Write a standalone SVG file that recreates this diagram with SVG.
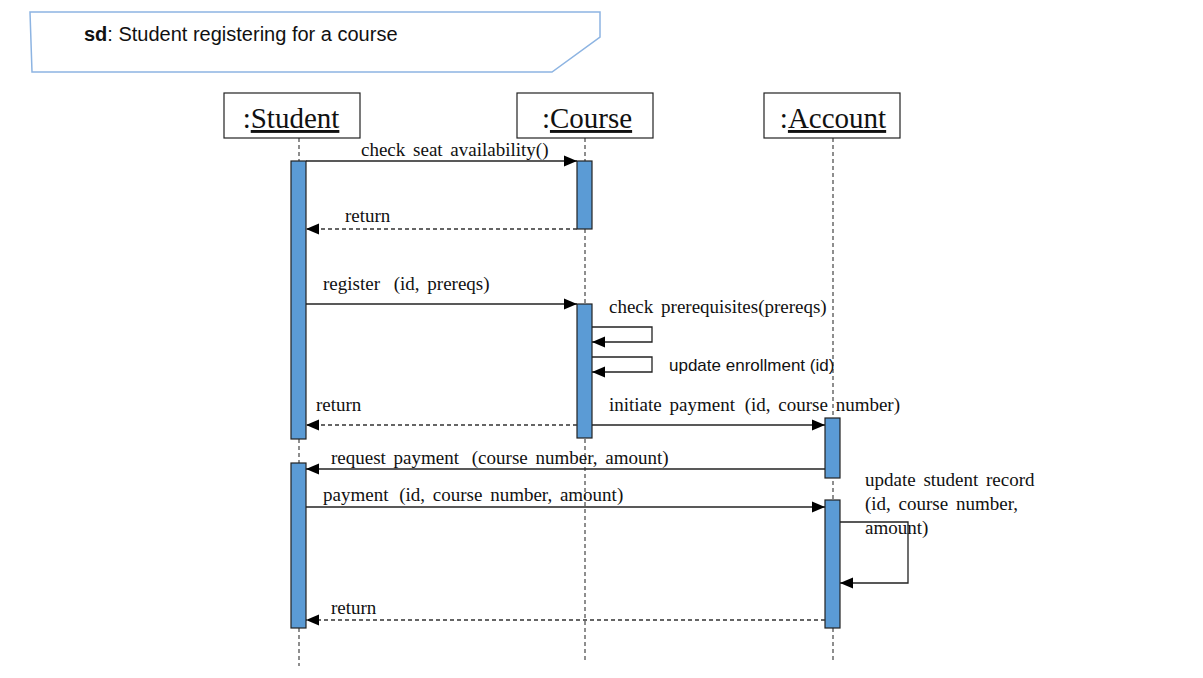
<svg xmlns="http://www.w3.org/2000/svg" width="1203" height="678" viewBox="0 0 1203 678">
<defs>
<style>
.t{font-family:"Liberation Serif","Times New Roman",serif;font-size:19px;fill:#111}
.h{font-family:"Liberation Serif","Times New Roman",serif;font-size:29px;fill:#111}
.a{font-family:"Liberation Sans",Arial,sans-serif;font-size:17px;fill:#111}
.box{fill:#fff;stroke:#222;stroke-width:1.2}
.life{stroke:#444;stroke-width:1.2;stroke-dasharray:4 3;fill:none}
.act{fill:#5b9bd5;stroke:#222;stroke-width:1.2}
.msg{stroke:#222;stroke-width:1.3;fill:none;marker-end:url(#ah)}
.ret{stroke:#333;stroke-width:1.3;fill:none;stroke-dasharray:4 3;marker-end:url(#ah)}
</style>
<marker id="ah" markerUnits="userSpaceOnUse" markerWidth="14" markerHeight="12" refX="13" refY="6" orient="auto">
<path d="M0,0.5 L13,6 L0,11.5 z" fill="#000"/>
</marker>
</defs>
<rect width="1203" height="678" fill="#fff"/>
<g id="frame">
<path d="M30,12 L600,12 L600,37 L552,72 L32,72 Z" fill="#fff" stroke="#8db4e2" stroke-width="1.5"/>
<text x="84" y="41" style="font-family:'Liberation Sans',Arial,sans-serif;font-size:20px;fill:#111"><tspan font-weight="bold">sd</tspan>: Student registering for a course</text>
</g>
<g id="lifelines">
<line class="life" x1="299" y1="138" x2="299" y2="666"/>
<line class="life" x1="585" y1="138" x2="585" y2="660"/>
<line class="life" x1="833" y1="138" x2="833" y2="660"/>
</g>
<g id="student">
<rect class="box" x="224" y="93" width="136" height="45"/>
<text class="h" x="291" y="128" text-anchor="middle">:<tspan text-decoration="underline">Student</tspan></text>
</g>
<g id="course">
<rect class="box" x="517" y="93" width="136" height="45"/>
<text class="h" x="587" y="128" text-anchor="middle">:<tspan text-decoration="underline">Course</tspan></text>
</g>
<g id="account">
<rect class="box" x="764" y="93" width="136" height="45"/>
<text class="h" x="833" y="128" text-anchor="middle">:<tspan text-decoration="underline">Account</tspan></text>
</g>
<g id="activations">
<rect class="act" x="291" y="161" width="15" height="278"/>
<rect class="act" x="291" y="463" width="15" height="165"/>
<rect class="act" x="577" y="161" width="15" height="68"/>
<rect class="act" x="577" y="304" width="15" height="134"/>
<rect class="act" x="825" y="418" width="15" height="60"/>
<rect class="act" x="825" y="500" width="15" height="128"/>
</g>
<g id="connectors">
<line class="msg" x1="306" y1="161" x2="577" y2="161"/>
<line class="ret" x1="577" y1="229" x2="306" y2="229"/>
<line class="msg" x1="306" y1="304" x2="577" y2="304"/>
<path class="msg" d="M592,327 L652,327 L652,342 L592,342"/>
<path class="msg" d="M592,357 L652,357 L652,372 L592,372"/>
<line class="ret" x1="577" y1="425" x2="306" y2="425"/>
<line class="msg" x1="592" y1="425" x2="825" y2="425"/>
<line class="msg" x1="825" y1="469" x2="306" y2="469"/>
<line class="msg" x1="306" y1="507" x2="825" y2="507"/>
<path class="msg" d="M840,522 L908,522 L908,583 L840,583"/>
<line class="ret" x1="825" y1="620" x2="306" y2="620"/>
</g>
<g id="labels">
<text class="t" x="361" y="156" word-spacing="3">check seat availability()</text>
<text class="t" x="345" y="222">return</text>
<text class="t" x="323" y="290" word-spacing="3">register <tspan dx="6">(id, prereqs)</tspan></text>
<text class="t" x="609" y="313" word-spacing="3">check prerequisites(prereqs)</text>
<text class="a" x="669" y="371">update enrollment (id)</text>
<text class="t" x="316" y="411">return</text>
<text class="t" x="609" y="411" word-spacing="3">initiate payment <tspan dx="2">(id, course number)</tspan></text>
<text class="t" x="331" y="464" word-spacing="3">request payment <tspan dx="5">(course number, amount)</tspan></text>
<text class="t" x="323" y="501" word-spacing="3">payment <tspan dx="3">(id, course number, amount)</tspan></text>
<text class="t" x="865" y="486" word-spacing="3">update student record</text>
<text class="t" x="865" y="510" word-spacing="3">(id, course number,</text>
<text class="t" x="865" y="534">amount)</text>
<text class="t" x="331" y="614">return</text>
</g>
</svg>
